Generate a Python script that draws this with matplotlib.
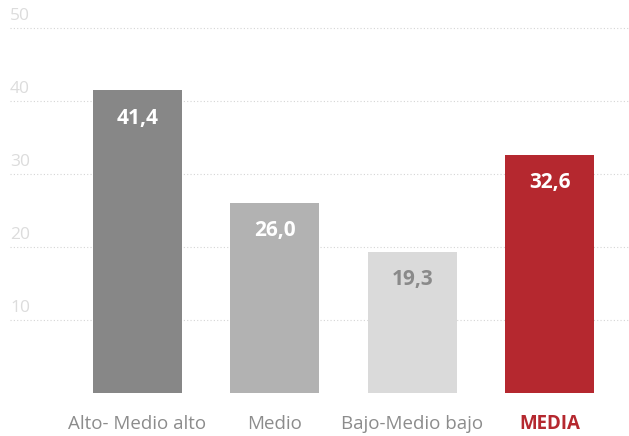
import matplotlib
matplotlib.use("Agg")
import matplotlib.pyplot as plt
from matplotlib.transforms import blended_transform_factory

categories = ["Alto- Medio alto", "Medio", "Bajo-Medio bajo", "MEDIA"]
values = [41.4, 26.0, 19.3, 32.6]
value_labels = ["41,4", "26,0", "19,3", "32,6"]
bar_colors = ["#878787", "#b2b2b2", "#dadada", "#b5282f"]
label_colors = ["white", "white", "#8a8a8a", "white"]
yticks = [10, 20, 30, 40, 50]

plt.rcParams['font.family'] = ['Open Sans', 'DejaVu Sans']

fig = plt.figure(figsize=(6.29, 4.36), dpi=100)
ax = fig.add_axes([10/629, 1 - 393/436, 619/629, 393/436])
ax.set_xlim(-0.927, 3.575)
ax.set_ylim(0, 393/7.31)

x = list(range(len(categories)))
ax.bar(x, values, width=0.647, color=bar_colors, zorder=2)

for yt in yticks:
    ax.axhline(yt, color="#d5d5d5", linestyle=(0, (1, 2)), linewidth=0.8, zorder=1)
    ax.annotate(str(yt), xy=(0, yt), xycoords=blended_transform_factory(ax.transAxes, ax.transData),
                xytext=(0, 12), textcoords="offset pixels", ha="left", va="center",
                color="#dcdcdc", fontsize=12.5)

for xi, v, lab, c in zip(x, values, value_labels, label_colors):
    ax.annotate(lab, xy=(xi, v), xytext=(0, -28), textcoords="offset pixels",
                ha="center", va="center", color=c, fontsize=15, fontweight="bold", zorder=3)

for xi, cat in enumerate(categories):
    is_media = cat == "MEDIA"
    ax.annotate(cat, xy=(xi, 0), xytext=(0, -31), textcoords="offset pixels",
                ha="center", va="center", annotation_clip=False,
                color="#b5282f" if is_media else "#8c8c8c",
                fontweight="bold" if is_media else "normal", fontsize=13.5)

for s in ax.spines.values():
    s.set_visible(False)
ax.set_xticks([])
ax.set_yticks([])

fig.savefig("out.png", dpi=100)
